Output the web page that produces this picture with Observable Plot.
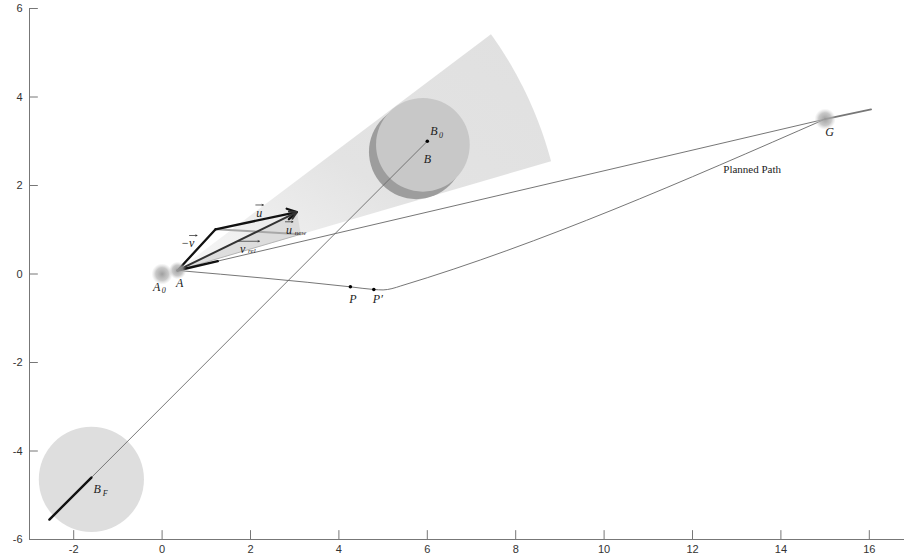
<!DOCTYPE html>
<html>
<head>
<meta charset="utf-8">
<script src="https://cdn.jsdelivr.net/npm/d3@7"></script>
<script src="https://cdn.jsdelivr.net/npm/@observablehq/plot@0.6"></script>
<style>
  html, body { margin: 0; padding: 0; background: #fff; }
  #chart { width: 904px; height: 560px; }
</style>
</head>
<body>
<div id="chart"></div>
<script>
// ---- data ----
const xTicks = [-2, 0, 2, 4, 6, 8, 10, 12, 14, 16];
const yTicks = [-6, -4, -2, 0, 2, 4, 6];

const pointA0 = {x: 0, y: 0};
const pointA = {x: 0.35, y: 0.08};
const pointG = {x: 15, y: 3.5};
const pointB0 = {x: 6, y: 3};
const pointP = {x: 4.26, y: -0.29};
const pointP2 = {x: 4.79, y: -0.35};

// planned path A -> P -> P' -> bend -> G
const plannedX = [0.35, 4.26, 4.79, 5.0, 5.2, 5.4, 15];
const plannedY = [0.08, -0.29, -0.35, -0.36, -0.33, -0.27, 3.5];

// direct line A -> G and its continuation beyond G
const directX = [0.35, 15];
const directY = [0.08, 3.5];
const extendX = [15, 16.04];
const extendY = [3.5, 3.72];
const startSegX = [0.35, 1.26];
const startSegY = [0.08, 0.29];

// obstacle trajectory B_start -> B_F -> B0
const trajX = [-2.55, 6];
const trajY = [-5.55, 3];
const trajThickX = [-2.55, -1.6];
const trajThickY = [-5.55, -4.6];

// velocity vectors
const negVTip = {x: 1.21, y: 1.01};
const uTip = {x: 3.05, y: 1.40};
const uNewTip = {x: 3.14, y: 0.90};

// collision cone (apex A, two edge end points)
const coneEdge1 = {x: 7.44, y: 5.42};
const coneEdge2 = {x: 8.8, y: 2.55};

// obstacle discs
const discs = [
  {x: -1.6, y: -4.64, r: 1.19, fill: "#dedede"},
  {x: 5.75, y: 2.76, r: 1.07, fill: "#9d9d9d"},
  {x: 5.9, y: 2.92, r: 1.06, fill: "#c8c8c8"}
];

// labels
const labels = [
  {x: -0.12, y: -0.3, t: "A", size: 12},
  {x: 0.04, y: -0.37, t: "0", size: 8},
  {x: 0.4, y: -0.2, t: "A", size: 12},
  {x: 6.15, y: 3.22, t: "B", size: 12},
  {x: 6.31, y: 3.13, t: "0", size: 8},
  {x: 6.0, y: 2.6, t: "B", size: 12},
  {x: -1.47, y: -4.87, t: "B", size: 12},
  {x: -1.29, y: -4.96, t: "F", size: 8},
  {x: 4.32, y: -0.56, t: "P", size: 12},
  {x: 4.88, y: -0.57, t: "P′", size: 12},
  {x: 15.1, y: 3.2, t: "G", size: 12},
  {x: 2.2, y: 1.38, t: "u", size: 12},
  {x: 0.58, y: 0.69, t: "−v", size: 12},
  {x: 2.87, y: 1.0, t: "u", size: 12},
  {x: 3.13, y: 0.94, t: "new", size: 7},
  {x: 1.82, y: 0.56, t: "v", size: 12},
  {x: 2.03, y: 0.52, t: "rel", size: 7}
];
const labelArrows = [
  {x1: 2.12, x2: 2.29, y: 1.56},
  {x1: 0.62, x2: 0.79, y: 0.87},
  {x1: 2.79, x2: 2.96, y: 1.18},
  {x1: 1.73, x2: 2.2, y: 0.74}
];
const pathLabel = {x: 13.35, y: 2.37, t: "Planned Path"};

// ---- geometry helpers ----
function conePolygon() {
  const a1 = Math.atan2(coneEdge1.y - pointA.y, coneEdge1.x - pointA.x);
  const a2 = Math.atan2(coneEdge2.y - pointA.y, coneEdge2.x - pointA.x);
  const r1 = Math.hypot(coneEdge1.x - pointA.x, coneEdge1.y - pointA.y);
  const r2 = Math.hypot(coneEdge2.x - pointA.x, coneEdge2.y - pointA.y);
  const pts = [{x: pointA.x, y: pointA.y}];
  const n = 30;
  for (let i = 0; i <= n; i++) {
    const t = i / n;
    const a = a1 + (a2 - a1) * t;
    const r = r1 + (r2 - r1) * t;
    pts.push({x: pointA.x + r * Math.cos(a), y: pointA.y + r * Math.sin(a)});
  }
  pts.push({x: pointA.x, y: pointA.y});
  return pts;
}
const zip = (xs, ys) => xs.map((x, i) => ({x, y: ys[i]}));
const fmt = d => (d < 0 ? "-" + Math.abs(d) : String(d));

const X0 = 29, X1 = 913;
const pxPerUnit = (X1 - X0) / 20;
const serif = "Liberation Serif";

const plot = Plot.plot({
  width: 904,
  height: 560,
  marginLeft: X0,
  marginRight: 0,
  marginTop: 8,
  marginBottom: 21,
  style: {background: "#fff", overflow: "hidden"},
  x: {domain: [-3, 17], range: [X0, X1]},
  y: {domain: [-6, 6]},
  r: {type: "linear", domain: [0, 1], range: [0, pxPerUnit]},
  marks: [
    // cone
    Plot.line(conePolygon(), {x: "x", y: "y", fill: "url(#coneGrad)", stroke: "none"}),
    // discs
    Plot.dot(discs, {x: "x", y: "y", r: "r", fill: "fill", stroke: "none"}),
    // trajectory of B
    Plot.line(zip(trajX, trajY), {x: "x", y: "y", stroke: "#6a6a6a", strokeWidth: 0.9}),
    Plot.line(zip(trajThickX, trajThickY), {x: "x", y: "y", stroke: "#111", strokeWidth: 2.4}),
    // direct line and extension
    Plot.line(zip(directX, directY), {x: "x", y: "y", stroke: "#666", strokeWidth: 0.9}),
    Plot.line(zip(extendX, extendY), {x: "x", y: "y", stroke: "#777", strokeWidth: 1.8}),
    // planned path
    Plot.line(zip(plannedX, plannedY), {x: "x", y: "y", stroke: "#666", strokeWidth: 0.9, curve: "monotone-x"}),
    // triangle between vectors
    Plot.line([pointA, uTip, uNewTip, pointA], {x: "x", y: "y", fill: "#d4d4d4", fillOpacity: 0.7, stroke: "none"}),
    // velocity vectors
    Plot.line([negVTip, uNewTip], {x: "x", y: "y", stroke: "#a8a8a8", strokeWidth: 2}),
    Plot.line([pointA, uNewTip], {x: "x", y: "y", stroke: "#b5b5b5", strokeWidth: 1}),
    Plot.line([pointA, negVTip], {x: "x", y: "y", stroke: "#111", strokeWidth: 2.3}),
    Plot.arrow([{x1: negVTip.x, y1: negVTip.y, x2: uTip.x, y2: uTip.y}],
      {x1: "x1", y1: "y1", x2: "x2", y2: "y2", stroke: "#111", strokeWidth: 2.3, headLength: 7}),
    Plot.arrow([{x1: pointA.x, y1: pointA.y, x2: uTip.x, y2: uTip.y}],
      {x1: "x1", y1: "y1", x2: "x2", y2: "y2", stroke: "#333", strokeWidth: 2, headLength: 6}),
    Plot.line(zip(startSegX, startSegY), {x: "x", y: "y", stroke: "#111", strokeWidth: 2.4}),
    // blobs at A0, A and G
    Plot.dot([pointA0, pointA, pointG], {x: "x", y: "y", r: [0.24, 0.2, 0.24], fill: "url(#blobGrad)", stroke: "none"}),
    // small points
    Plot.dot([pointB0, pointP, pointP2], {x: "x", y: "y", r: [0.04, 0.04, 0.04], fill: "#000", stroke: "none"}),
    // axes
    Plot.ruleY([-6], {x1: -3, x2: 17, stroke: "#777", strokeWidth: 1}),
    Plot.ruleX([-3], {y1: -6, y2: 6, stroke: "#777", strokeWidth: 1}),
    Plot.ruleX(xTicks, {y1: -6, y2: -5.8, stroke: "#777", strokeWidth: 1}),
    Plot.ruleY(yTicks, {x1: -3, x2: -2.8, stroke: "#777", strokeWidth: 1}),
    Plot.axisX({ticks: xTicks, tickFormat: fmt, tickSize: 0, tickPadding: 6, fontSize: 11, fontFamily: "Liberation Sans", fill: "#333"}),
    Plot.axisY({ticks: yTicks, tickFormat: fmt, tickSize: 0, tickPadding: 7, fontSize: 11, fontFamily: "Liberation Sans", fill: "#333"}),
    // labels
    Plot.text(labels, {x: "x", y: "y", text: "t", fontSize: (d) => d.size, fontFamily: serif, fontStyle: "italic", fill: "#222"}),
    Plot.arrow(labelArrows, {x1: "x1", x2: "x2", y1: "y", y2: "y", stroke: "#222", strokeWidth: 0.7, headLength: 3, headAngle: 50}),
    Plot.text([pathLabel], {x: "x", y: "y", text: "t", fontSize: 11, fontFamily: serif, fill: "#222"})
  ]
});

const svg = plot.tagName.toLowerCase() === "svg" ? plot : plot.querySelector("svg");
const defs = document.createElementNS("http://www.w3.org/2000/svg", "defs");
defs.innerHTML = `
  <linearGradient id="coneGrad" x1="0" y1="1" x2="1" y2="0">
    <stop offset="0" stop-color="#f7f7f7"/>
    <stop offset="0.45" stop-color="#e3e3e3"/>
    <stop offset="1" stop-color="#e0e0e0"/>
  </linearGradient>
  <radialGradient id="blobGrad">
    <stop offset="0" stop-color="#9a9a9a" stop-opacity="0.95"/>
    <stop offset="0.6" stop-color="#b0b0b0" stop-opacity="0.7"/>
    <stop offset="1" stop-color="#cccccc" stop-opacity="0"/>
  </radialGradient>`;
svg.insertBefore(defs, svg.firstChild);
document.getElementById("chart").appendChild(plot);
</script>
</body>
</html>
